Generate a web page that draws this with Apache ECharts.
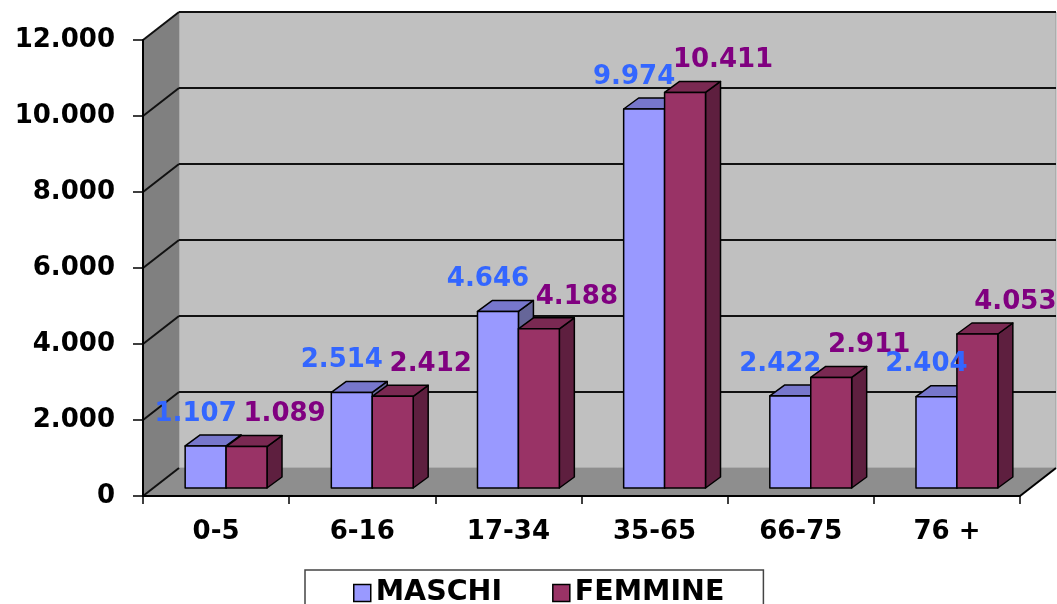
<!DOCTYPE html>
<html><head><meta charset="utf-8">
<script src="https://cdn.jsdelivr.net/npm/echarts@6/dist/echarts.min.js"></script>
<style>html,body{margin:0;padding:0;background:#fff}#c{width:1057px;height:604px}</style>
</head><body><div id="c"></div>
<script>
const categories = ['0-5', '6-16', '17-34', '35-65', '66-75', '76 +'];
const maschi = [1107, 2514, 4646, 9974, 2422, 2404];
const femmine = [1089, 2412, 4188, 10411, 2911, 4053];
const yTicks = [0, 2000, 4000, 6000, 8000, 10000, 12000];
const seriesNames = ['MASCHI', 'FEMMINE'];

const FONT = '"DejaVu Sans", Verdana, sans-serif';
const WALL = [36, -28];      // depth of the 3D walls
const BAR_OFF = [10, -8];    // bar front face depth offset
const BAR_D = [15, -11];     // bar depth
const BAR_W = 0.28;          // bar width as fraction of category

const colors = {
  m: { front: '#9999FF', top: '#7777CC', side: '#666699', label: '#3366FF' },
  f: { front: '#993366', top: '#7A2952', side: '#5E1F3F', label: '#800080' }
};

function fmt(v) { return String(v).replace(/\B(?=(\d{3})+(?!\d))/g, '.'); }

function wallsRender(params, api) {
  const cs = params.coordSys;
  const x0 = cs.x, x1 = cs.x + cs.width, yb = cs.y + cs.height, yt = cs.y;
  const dx = WALL[0], dy = WALL[1];
  const ch = [];
  ch.push({ type: 'polygon', shape: { points: [[x0 + dx, yt + dy], [x1 + dx, yt + dy], [x1 + dx, yb + dy], [x0 + dx, yb + dy]] },
    style: { fill: '#C0C0C0', stroke: '#9a9a9a', lineWidth: 1 } });
  ch.push({ type: 'polygon', shape: { points: [[x0, yb], [x0 + dx, yb + dy], [x0 + dx, yt + dy], [x0, yt]] },
    style: { fill: '#808080' } });
  ch.push({ type: 'polygon', shape: { points: [[x0, yb], [x1, yb], [x1 + dx, yb + dy], [x0 + dx, yb + dy]] },
    style: { fill: '#8E8E8E' } });
  ch.push({ type: 'line', shape: { x1: x1, y1: yb, x2: x1 + dx, y2: yb + dy }, style: { stroke: '#000', lineWidth: 2 } });
  yTicks.forEach(function (t) {
    const y = api.coord([0, t])[1];
    ch.push({ type: 'line', shape: { x1: x0, y1: y, x2: x0 + dx, y2: y + dy }, style: { stroke: '#111', lineWidth: 2 } });
    if (t > 0) ch.push({ type: 'line', shape: { x1: x0 + dx, y1: y + dy, x2: x1 + dx, y2: y + dy }, style: { stroke: '#111', lineWidth: 2 } });
  });
  return { type: 'group', children: ch };
}

function barRender(which) {
  return function (params, api) {
    const idx = api.value(0), val = api.value(1);
    const top = api.coord([idx, val]);
    const base = api.coord([idx, 0]);
    const cw = api.size([1, 0])[0];
    const bw = cw * BAR_W;
    const c = which === 0 ? colors.m : colors.f;
    const xa = top[0] + (which === 0 ? -bw : 0) + BAR_OFF[0];
    const xb = xa + bw;
    const yt = top[1] + BAR_OFF[1], yb = base[1] + BAR_OFF[1];
    const dx = BAR_D[0], dy = BAR_D[1];
    const st = { stroke: '#000', lineWidth: 1.5, lineJoin: 'round' };
    return { type: 'group', children: [
      { type: 'polygon', shape: { points: [[xb, yb], [xb + dx, yb + dy], [xb + dx, yt + dy], [xb, yt]] }, style: Object.assign({ fill: c.side }, st) },
      { type: 'polygon', shape: { points: [[xa, yt], [xb, yt], [xb + dx, yt + dy], [xa + dx, yt + dy]] }, style: Object.assign({ fill: c.top }, st) },
      { type: 'rect', shape: { x: xa, y: yt, width: bw, height: yb - yt }, style: Object.assign({ fill: c.front }, st) }
    ] };
  };
}

function labelRender(params, api) {
  const idx = api.value(0);
  const cw = api.size([1, 0])[0];
  const bw = cw * BAR_W;
  const ch = [];
  [[api.value(1), colors.m, -bw / 2 - 10], [api.value(2), colors.f, bw / 2 + 38]].forEach(function (d) {
    const p = api.coord([idx, d[0]]);
    ch.push({ type: 'text', x: p[0] + BAR_OFF[0] + d[2], y: p[1] + BAR_OFF[1] - 32,
      style: { text: fmt(d[0]), fill: d[1].label, font: 'bold 26px ' + FONT, align: 'center', verticalAlign: 'middle' } });
  });
  return { type: 'group', children: ch };
}

const chart = echarts.init(document.getElementById('c'), null, { renderer: 'canvas' });
chart.setOption({
  animation: false,
  backgroundColor: '#fff',
  grid: { left: 143, right: 37, top: 40, bottom: 108 },
  legend: {
    data: [
      { name: seriesNames[0], itemStyle: { color: colors.m.front, borderColor: '#000', borderWidth: 1.5 } },
      { name: seriesNames[1], itemStyle: { color: colors.f.front, borderColor: '#000', borderWidth: 1.5 } }
    ],
    left: 305, top: 570, icon: 'rect', itemWidth: 17, itemHeight: 17, itemGap: 50, itemTextGap: 10,
    padding: [8, 39, 8, 48], borderColor: '#444', borderWidth: 1.5,
    textStyle: { fontSize: 28.5, fontWeight: 'bold', color: '#000', fontFamily: FONT, lineHeight: 30 }
  },
  xAxis: {
    type: 'category', data: categories, z: 10,
    axisLine: { lineStyle: { color: '#000', width: 2 } },
    axisTick: { show: true, length: 8, lineStyle: { color: '#000', width: 1.5 } },
    axisLabel: { fontSize: 26, fontWeight: 'bold', color: '#000', fontFamily: FONT, margin: 23 },
    splitLine: { show: false }
  },
  yAxis: {
    type: 'value', min: 0, max: 12000, interval: 2000, z: 10,
    axisLine: { show: true, lineStyle: { color: '#000', width: 2 } },
    axisTick: { show: true, length: 10, lineStyle: { color: '#000', width: 1.5 } },
    axisLabel: { fontSize: 26, fontWeight: 'bold', color: '#000', fontFamily: FONT, margin: 28, formatter: fmt },
    splitLine: { show: false }
  },
  series: [
    { type: 'custom', name: 'walls', renderItem: wallsRender, data: [[0, 0]], z: 1, silent: true },
    { type: 'custom', name: seriesNames[0], renderItem: barRender(0), encode: { x: 0, y: 1 },
      itemStyle: { color: colors.m.front }, data: maschi.map(function (v, i) { return [i, v]; }), z: 3 },
    { type: 'custom', name: seriesNames[1], renderItem: barRender(1), encode: { x: 0, y: 1 },
      itemStyle: { color: colors.f.front }, data: femmine.map(function (v, i) { return [i, v]; }), z: 4 },
    { type: 'custom', name: 'labels', renderItem: labelRender, encode: { x: 0, y: 1 },
      data: maschi.map(function (v, i) { return [i, v, femmine[i]]; }), z: 6, silent: true }
  ]
});
</script>
</body></html>
